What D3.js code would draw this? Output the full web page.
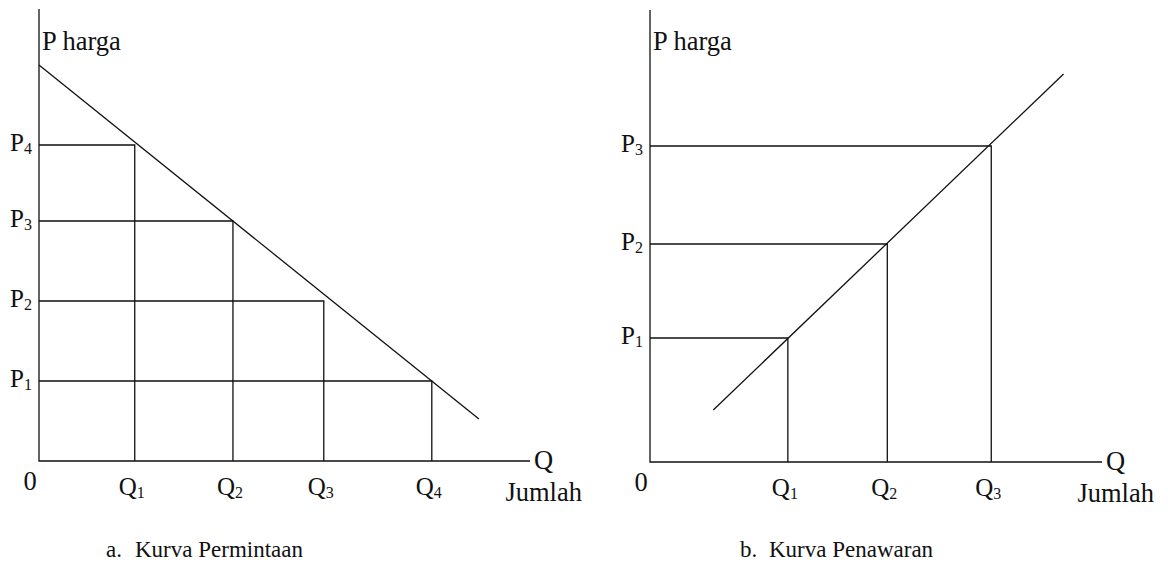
<!DOCTYPE html>
<html>
<head>
<meta charset="utf-8">
<script src="https://cdn.jsdelivr.net/npm/d3@7/dist/d3.min.js"></script>
<style>
  html, body { margin: 0; padding: 0; background: #fff; }
</style>
</head>
<body>
<svg id="chart" width="1168" height="565"></svg>
<script>
// ---- Kurva Permintaan (demand) ----
const demandPriceLabels = ["1", "2", "3", "4"];          // P1..P4 subscripts
const demandPrices      = [2.0, 4.0, 6.0, 7.9];          // P1..P4
const demandQtyLabels   = ["1", "2", "3", "4"];          // Q1..Q4 subscripts
const demandQtys        = [1.95, 3.95, 5.8, 8.0];        // Q1..Q4 (Q1 pairs with P4)
const demandCurve       = [[0, 9.9], [8.96, 1.05]];      // [Q, P] endpoints

// ---- Kurva Penawaran (supply) ----
const supplyPriceLabels = ["1", "2", "3"];
const supplyPrices      = [3.1, 5.45, 7.9];              // P1..P3
const supplyQtyLabels   = ["1", "2", "3"];
const supplyQtys        = [3.05, 5.25, 7.55];            // Q1..Q3 (Q1 pairs with P1)
const supplyCurve       = [[1.4, 1.3], [9.15, 9.7]];

const FONT = "'Times New Roman', 'Liberation Serif', serif";
const svg = d3.select("#chart")
  .attr("font-family", FONT)
  .style("font-family", FONT);
const FS = 23, FS_AXIS = 26.5, FS_TICK = 25, SUB = 16;

function txt(g, size) {
  return g.append("text").attr("font-family", FONT).attr("fill", "#111")
    .attr("font-size", size || FS);
}

function labelWithSub(g, base, sub, x, y, anchor, dx) {
  const t = txt(g, FS_TICK).attr("x", x).attr("y", y).attr("text-anchor", anchor);
  if (dx) t.attr("dx", dx);
  t.append("tspan").text(base);
  t.append("tspan").attr("font-size", SUB).attr("dy", 3).text(sub);
  return t;
}

function panel(opts) {
  const g = svg.append("g");
  const x = d3.scaleLinear().domain([0, 10]).range(opts.xRange);
  const y = d3.scaleLinear().domain([0, 10]).range(opts.yRange);
  const line = d3.line().x(d => x(d[0])).y(d => y(d[1]));
  const stroke = s => s.attr("stroke", "#111").attr("stroke-width", 1.3).attr("fill", "none");

  // axes
  g.append("path").attr("d", line([[0, 11.3], [0, 0], [10, 0]])).call(stroke);

  // guide lines from each price / quantity pair
  opts.pairs.forEach(([q, p]) => {
    g.append("path").attr("d", line([[0, p], [q, p], [q, 0]])).call(stroke);
  });

  // curve
  g.append("path").attr("d", line(opts.curve)).call(stroke);

  // price labels
  opts.prices.forEach((p, i) => {
    labelWithSub(g, "P", opts.priceLabels[i], x(0) - 7, y(p) + 6, "end");
  });
  // quantity labels
  opts.qtys.forEach((q, i) => {
    labelWithSub(g, "Q", opts.qtyLabels[i], x(q), y(0) + 34, "middle", -3);
  });

  // axis captions
  txt(g, FS_AXIS).attr("x", x(0) + 3).attr("y", 50).text("P harga");
  txt(g, FS_AXIS).attr("x", x(0) - 9).attr("y", y(0) + 29).attr("text-anchor", "middle").text("0");
  txt(g, FS_AXIS).attr("x", x(10) + 4).attr("y", y(0) + 8).text("Q");
  txt(g, FS_AXIS).attr("x", x(10) + 52).attr("y", y(0) + 40).attr("text-anchor", "end").text("Jumlah");

  // panel title
  const cap = txt(g).attr("x", opts.capX).attr("y", 557);
  cap.append("tspan").text(opts.capLetter);
  cap.append("tspan").attr("x", opts.capX + 29).text(opts.caption);
}

panel({
  xRange: [39, 530], yRange: [461, 61],
  pairs: demandQtys.map((q, i) => [q, demandPrices[demandPrices.length - 1 - i]]),
  curve: demandCurve,
  prices: demandPrices, priceLabels: demandPriceLabels,
  qtys: demandQtys, qtyLabels: demandQtyLabels,
  capX: 106, capLetter: "a.", caption: "Kurva Permintaan"
});

panel({
  xRange: [650, 1102], yRange: [462, 62],
  pairs: supplyQtys.map((q, i) => [q, supplyPrices[i]]),
  curve: supplyCurve,
  prices: supplyPrices, priceLabels: supplyPriceLabels,
  qtys: supplyQtys, qtyLabels: supplyQtyLabels,
  capX: 740, capLetter: "b.", caption: "Kurva Penawaran"
});
</script>
</body>
</html>
